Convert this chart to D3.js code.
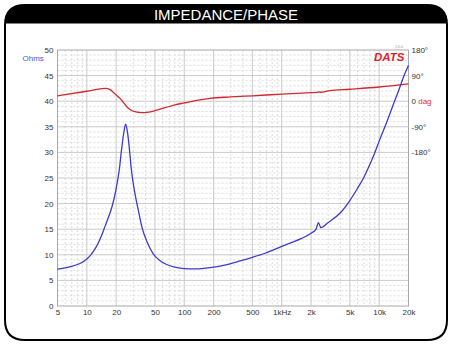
<!DOCTYPE html>
<html>
<head>
<meta charset="utf-8">
<script src="https://cdn.jsdelivr.net/npm/d3@7"></script>
<style>
  body { margin: 0; background: #fff; }
  svg { display: block; font-family: Arial, "Liberation Sans", sans-serif; }
</style>
</head>
<body>
<svg id="chart" width="453" height="346"></svg>
<script>
// Frequency axis ticks and labels
const freqTicks = [5, 10, 20, 50, 100, 200, 500, 1000, 2000, 5000, 10000, 20000];
const freqTickLabels = ["5", "10", "20", "50", "100", "200", "500", "1kHz", "2k", "5k", "10k", "20k"];
// Impedance axis ticks (ohms)
const ohmTicks = [0, 5, 10, 15, 20, 25, 30, 35, 40, 45, 50];
// Phase axis ticks (degrees)
const phaseTicks = [180, 90, 0, -90, -180];

// Impedance magnitude sweep
const impFreq = [5, 6.5, 8.5, 10, 11, 12, 13.1, 14.2, 15.4, 16.7, 18, 19.8, 21.6, 22.7, 23.8, 25, 26.2, 27.4, 28.5,
  29.8, 31.5, 33.5, 37, 42, 48, 56, 66, 80, 100, 130, 184, 260, 374, 500, 674, 960, 1220, 1600,
  2000, 2250, 2380, 2520, 3000, 4000, 5000, 6000, 7000, 8000, 9000, 10000, 12000, 14000, 16000, 18000, 20000];
const impOhms = [7.2, 7.6, 8.3, 9.2, 10.0, 11.0, 12.3, 13.8, 15.6, 17.4, 19.2, 22.5, 26.8, 30.5, 33.5, 35.5, 33.8, 30.5, 27.0,
  24.2, 21.5, 19.0, 15.2, 12.3, 10.2, 8.9, 8.1, 7.6, 7.3, 7.25, 7.5, 8.0, 8.8, 9.5, 10.3, 11.5, 12.3, 13.2,
  14.2, 15.0, 16.3, 15.3, 16.3, 18.2, 20.6, 23.0, 25.2, 27.6, 29.9, 32.2, 36.0, 39.4, 42.3, 45.0, 47.0];

// Phase sweep
const phaseFreq = [5, 10, 15.4, 17.5, 18.7, 20.3, 21.9, 23.8, 25.7, 28, 31, 37, 43, 50, 65, 80, 100, 130,
  184, 300, 500, 1000, 2000, 2300, 2400, 2500, 3100, 5000, 10000, 20000];
const phaseDeg = [19, 35, 45, 40, 31, 20, 10, -5, -19.6, -30, -37, -40.5, -38.5, -33, -22, -13, -6, 2,
  10, 15, 19, 25, 30, 31, 33, 31.5, 37, 42, 50, 61];

const svg = d3.select("#chart");

// Scales
const x = d3.scaleLog().domain([5, 20000]).range([57.5, 408.5]);
const y = d3.scaleLinear().domain([0, 50]).range([306, 50]);
const yp = d3.scaleLinear().domain([-180, 180]).range([y(30), y(50)]);

// Panel frame with black title bar
const L = 5, R = 447, T = 5, B = 340, r = 20, barB = 23.5;
svg.append("path")
  .attr("d", `M${L},${barB} L${L},${T + r} Q${L},${T} ${L + r},${T} L${R - r},${T} Q${R},${T} ${R},${T + r} L${R},${barB} Z`)
  .attr("fill", "#000");
svg.append("path")
  .attr("d", `M${L + r},${T} L${R - r},${T} Q${R},${T} ${R},${T + r} L${R},${B - r} Q${R},${B} ${R - r},${B} L${L + r},${B} Q${L},${B} ${L},${B - r} L${L},${T + r} Q${L},${T} ${L + r},${T} Z`)
  .attr("fill", "none").attr("stroke", "#000").attr("stroke-width", 2);
svg.append("text")
  .attr("x", 226).attr("y", 19.5).attr("text-anchor", "middle")
  .attr("fill", "#fff").attr("font-size", 15).text("IMPEDANCE/PHASE");

// Grid
const grid = svg.append("g");
const minorF = [];
for (let d = 1; d <= 10000; d *= 10) {
  for (let m = 1; m <= 9; m++) {
    const f = m * d;
    if (f > 5 && f < 20000 && !freqTicks.includes(f)) minorF.push(f);
  }
}
grid.selectAll(".vminor").data(minorF).join("line")
  .attr("x1", d => x(d)).attr("x2", d => x(d)).attr("y1", y(50)).attr("y2", y(0))
  .attr("stroke", "#d4d4d4").attr("stroke-width", 0.8).attr("stroke-dasharray", "2,2");
grid.selectAll(".vmajor").data(freqTicks.slice(1, -1)).join("line")
  .attr("x1", d => x(d)).attr("x2", d => x(d)).attr("y1", y(50)).attr("y2", y(0))
  .attr("stroke", "#c4c4c4").attr("stroke-width", 0.9);
const hMinor = d3.range(1, 50).filter(v => v % 5 !== 0);
grid.selectAll(".hminor").data(hMinor).join("line")
  .attr("x1", x(5)).attr("x2", x(20000)).attr("y1", d => y(d)).attr("y2", d => y(d))
  .attr("stroke", "#d4d4d4").attr("stroke-width", 0.8).attr("stroke-dasharray", "2,2");
grid.selectAll(".hmajor").data(ohmTicks.slice(1, -1)).join("line")
  .attr("x1", x(5)).attr("x2", x(20000)).attr("y1", d => y(d)).attr("y2", d => y(d))
  .attr("stroke", "#c4c4c4").attr("stroke-width", 0.9);
svg.append("rect")
  .attr("x", x(5)).attr("y", y(50)).attr("width", x(20000) - x(5)).attr("height", y(0) - y(50))
  .attr("fill", "none").attr("stroke", "#a8a8a8").attr("stroke-width", 1);

// Axes
const axLeft = svg.append("g").attr("transform", `translate(${x(5)},0)`)
  .call(d3.axisLeft(y).tickValues(ohmTicks).tickSize(0).tickPadding(4));
const axBottom = svg.append("g").attr("transform", `translate(0,${y(0)})`)
  .call(d3.axisBottom(x).tickValues(freqTicks).tickFormat((d, i) => freqTickLabels[i]).tickSize(0).tickPadding(3));
const axRight = svg.append("g").attr("transform", `translate(${x(20000)},0)`)
  .call(d3.axisRight(yp).tickValues(phaseTicks).tickFormat(d => d === 0 ? "0" : d + "°").tickSize(0).tickPadding(3));
[axLeft, axBottom, axRight].forEach(g => {
  g.select(".domain").remove();
  g.selectAll("text").attr("font-size", 8).attr("fill", "#333").attr("font-family", "Arial, 'Liberation Sans', sans-serif");
});
axRight.selectAll(".tick text").filter(d => d === 0)
  .append("tspan").attr("fill", "#e03030").text(" dag");

svg.append("text").attr("x", 22.5).attr("y", 60.5).attr("font-size", 8)
  .attr("fill", "#5555d5").text("Ohms");

// Logo
svg.append("text").attr("x", 404.5).attr("y", 60.8).attr("text-anchor", "end")
  .attr("font-size", 11.5).attr("font-weight", "bold").attr("font-style", "italic")
  .attr("fill", "#e0202c").text("DATS");
svg.append("text").attr("x", 403).attr("y", 47.5).attr("text-anchor", "end")
  .attr("font-size", 3.5).attr("fill", "#999").text("2.6.0");

// Curves
const impLine = d3.line().x(d => x(d[0])).y(d => y(d[1])).curve(d3.curveMonotoneX);
const phaseLine = d3.line().x(d => x(d[0])).y(d => yp(d[1])).curve(d3.curveMonotoneX);

svg.append("path").datum(d3.zip(phaseFreq, phaseDeg))
  .attr("d", phaseLine).attr("fill", "none")
  .attr("stroke", "#d42630").attr("stroke-width", 1.3);
svg.append("path").datum(d3.zip(impFreq, impOhms))
  .attr("d", impLine).attr("fill", "none")
  .attr("stroke", "#3c3ccc").attr("stroke-width", 1.3);
</script>
</body>
</html>
